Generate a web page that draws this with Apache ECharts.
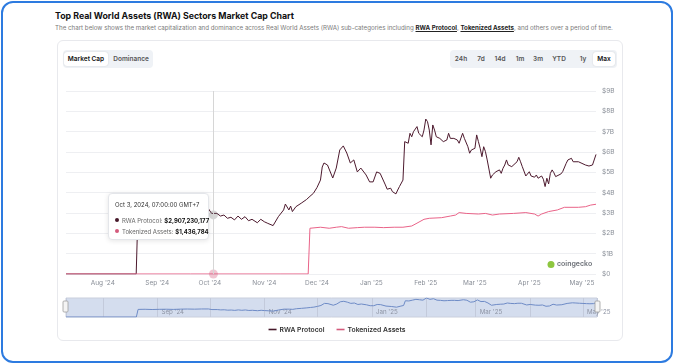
<!DOCTYPE html>
<html><head><meta charset="utf-8">
<script src="https://cdn.jsdelivr.net/npm/echarts@6/dist/echarts.min.js"></script>
<style>
html,body{margin:0;padding:0;background:#fff;width:674px;height:364px;overflow:hidden;font-family:Inter,"Noto Sans",sans-serif;}
#frame{position:absolute;left:1px;top:1px;width:668px;height:358px;border:2px solid #2d7be0;border-radius:12px;}
#title{position:absolute;left:55px;top:10px;font-size:8.8px;font-weight:700;color:#111;white-space:nowrap;}
#sub{position:absolute;left:55px;top:24px;font-size:6.2px;color:#7a7a7a;white-space:nowrap;}
#sub b{color:#222;text-decoration:underline;font-weight:700;}
#card{position:absolute;left:57px;top:40px;width:564px;height:299px;border:1px solid #e8e9ed;border-radius:6px;}
.grp{position:absolute;top:50px;height:18px;background:#eff2f6;border-radius:4px;}
.btn{position:absolute;top:0;height:18px;line-height:18px;font-size:6.5px;font-weight:600;color:#555;text-align:center;white-space:nowrap;}
.act{background:#fff;border-radius:3px;top:2px;height:14px;line-height:14px;color:#111;box-shadow:0 0 1.5px rgba(0,0,0,0.18);}
#chart{position:absolute;left:0;top:0;width:674px;height:364px;}
</style></head>
<body>
<div id="frame"></div>
<div id="title">Top Real World Assets (RWA) Sectors Market Cap Chart</div>
<div id="sub">The chart below shows the market capitalization and dominance across Real World Assets (RWA) sub-categories including <b>RWA Protocol</b>, <b>Tokenized Assets</b>, and others over a period of time.</div>
<div id="card"></div>
<div class="grp" style="left:63px;width:90px;">
  <div class="btn act" style="left:1px;width:44px;">Market Cap</div>
  <div class="btn" style="left:50px;width:36px;">Dominance</div>
</div>
<div class="grp" style="left:450px;width:167px;">
  <div class="btn" style="left:3px;width:16px;">24h</div>
  <div class="btn" style="left:23px;width:16px;">7d</div>
  <div class="btn" style="left:42px;width:16px;">14d</div>
  <div class="btn" style="left:62px;width:16px;">1m</div>
  <div class="btn" style="left:80px;width:16px;">3m</div>
  <div class="btn" style="left:101px;width:16px;">YTD</div>
  <div class="btn" style="left:125px;width:16px;">1y</div>
  <div class="btn act" style="left:143px;width:22px;">Max</div>
</div>
<div id="chart"></div>
<script>
const seriesNames = ['RWA Protocol', 'Tokenized Assets'];
const seriesColors = ['#46182a', '#d45a7c'];
const monthNames = ['Jan','Feb','Mar','Apr','May','Jun','Jul','Aug','Sep','Oct','Nov','Dec'];

// RWA Protocol market cap (billions USD)
const rwaDates = ['2024-07-11','2024-08-20','2024-08-21','2024-08-25','2024-08-29','2024-09-02','2024-09-06','2024-09-10','2024-09-14','2024-09-18','2024-09-22','2024-09-26','2024-09-30',
'2024-10-01','2024-10-02','2024-10-03','2024-10-05','2024-10-07','2024-10-09','2024-10-11','2024-10-13','2024-10-15','2024-10-17','2024-10-19','2024-10-21','2024-10-23','2024-10-25','2024-10-28','2024-10-30',
'2024-11-01','2024-11-03','2024-11-06','2024-11-09','2024-11-12','2024-11-13','2024-11-15','2024-11-16','2024-11-17','2024-11-19','2024-11-22','2024-11-25','2024-11-27','2024-11-29',
'2024-12-01','2024-12-03','2024-12-04','2024-12-05','2024-12-07','2024-12-08','2024-12-10','2024-12-12','2024-12-14','2024-12-16','2024-12-18','2024-12-20','2024-12-22','2024-12-24','2024-12-26','2024-12-29','2024-12-31',
'2025-01-02','2025-01-04','2025-01-06','2025-01-09','2025-01-10','2025-01-12','2025-01-13','2025-01-15','2025-01-16','2025-01-17','2025-01-18','2025-01-19','2025-01-20','2025-01-21','2025-01-22','2025-01-23','2025-01-24','2025-01-25','2025-01-26','2025-01-27','2025-01-28','2025-01-30','2025-01-31',
'2025-02-01','2025-02-02','2025-02-03','2025-02-04','2025-02-05','2025-02-06','2025-02-07','2025-02-08','2025-02-09','2025-02-10','2025-02-11','2025-02-13','2025-02-14','2025-02-15','2025-02-17','2025-02-19','2025-02-20','2025-02-22','2025-02-23','2025-02-24','2025-02-25','2025-02-26','2025-02-27','2025-02-28',
'2025-03-01','2025-03-02','2025-03-03','2025-03-04','2025-03-05','2025-03-06','2025-03-07','2025-03-08','2025-03-09','2025-03-10','2025-03-11','2025-03-13','2025-03-14','2025-03-15','2025-03-16','2025-03-17','2025-03-18','2025-03-19','2025-03-20','2025-03-21','2025-03-22','2025-03-23','2025-03-25','2025-03-26','2025-03-27','2025-03-28','2025-03-30','2025-03-31',
'2025-04-01','2025-04-02','2025-04-04','2025-04-05','2025-04-06','2025-04-08','2025-04-09','2025-04-10','2025-04-11','2025-04-12','2025-04-13','2025-04-14','2025-04-15','2025-04-16','2025-04-17','2025-04-19','2025-04-20','2025-04-22','2025-04-23','2025-04-25','2025-04-26','2025-04-27','2025-04-29',
'2025-05-01','2025-05-03','2025-05-05','2025-05-07','2025-05-08','2025-05-09'];
const rwaValues = [0,0,3.05,3.10,3.00,3.08,3.12,3.04,3.15,3.20,3.14,3.22,3.23,
3.10,2.98,2.907230177,2.98,2.85,2.90,2.74,2.79,2.66,2.85,2.69,2.82,2.62,2.69,2.52,2.69,
2.57,2.49,2.38,2.82,3.15,3.44,3.15,3.34,3.07,3.31,3.48,3.66,3.82,3.97,
4.25,4.62,5.26,5.46,5.36,5.41,4.72,5.21,6.10,6.30,5.95,5.46,5.61,5.02,5.21,4.87,4.53,
4.53,5.02,4.95,4.38,4.17,4.22,4.05,3.94,4.13,4.30,4.22,4.62,6.51,6.59,6.43,6.92,6.75,7.00,7.08,7.25,6.92,6.75,7.08,
7.62,7.49,7.08,6.35,7.33,7.08,6.75,6.84,6.67,6.75,6.51,6.59,6.92,6.67,6.67,6.59,6.43,6.92,6.67,6.72,6.26,5.94,6.10,6.10,
6.18,6.84,6.51,6.18,5.77,6.26,6.02,5.61,5.52,4.71,4.87,5.03,4.95,5.12,4.95,5.20,5.36,5.61,5.36,5.44,5.28,5.36,5.52,5.74,5.52,5.28,4.82,4.87,
5.03,4.82,4.76,4.87,4.71,4.82,4.66,4.30,4.71,4.43,4.95,5.12,4.98,4.79,4.87,4.92,5.03,5.44,5.61,5.69,5.52,5.61,5.52,
5.44,5.36,5.31,5.36,5.33,5.88];

// Tokenized Assets market cap (billions USD)
const tokDates = ['2024-07-11','2024-08-20','2024-09-20','2024-10-03','2024-11-10','2024-11-26','2024-11-27','2024-12-03','2024-12-08','2024-12-12','2024-12-15','2024-12-19','2024-12-24','2024-12-28',
'2025-01-03','2025-01-08','2025-01-14','2025-01-19','2025-01-24','2025-01-27','2025-01-31','2025-02-03','2025-02-10','2025-02-15','2025-02-18','2025-02-20','2025-02-24',
'2025-03-03','2025-03-07','2025-03-11','2025-03-15','2025-03-23','2025-03-30','2025-04-04','2025-04-06','2025-04-08','2025-04-12','2025-04-17','2025-04-21','2025-04-29','2025-05-03','2025-05-06','2025-05-09'];
const tokValues = [0.0011,0.0013,0.0014,0.001436784,0.0015,0.0016,2.25,2.30,2.25,2.30,2.33,2.25,2.28,2.30,
2.30,2.28,2.30,2.30,2.36,2.50,2.69,2.74,2.77,2.85,2.90,3.02,2.98,
2.95,2.98,2.90,2.95,2.98,3.02,2.95,2.85,2.95,3.07,3.15,3.28,3.28,3.31,3.39,3.43];

const tooltipDate = '2024-10-03';

function ts(s){ const p = s.split('-'); return Date.UTC(+p[0], +p[1]-1, +p[2]); }
function pairs(d, v){ return d.map((s, i) => [ts(s), v[i]]); }
function monthLabel(val){ const d = new Date(val); return d.getUTCDate() === 1 ? monthNames[d.getUTCMonth()] + " '" + String(d.getUTCFullYear()).slice(2) : ''; }
function navLabel(val){ const d = new Date(val); return (d.getUTCDate() === 1 && d.getUTCMonth() % 2 === 0) ? monthNames[d.getUTCMonth()] + " '" + String(d.getUTCFullYear()).slice(2) : ''; }
function pad(n){ return (n < 10 ? '0' : '') + n; }

const rwaData = pairs(rwaDates, rwaValues);
const tokData = pairs(tokDates, tokValues);
const DAY = 86400000;

const chart = echarts.init(document.getElementById('chart'), null, {renderer: 'canvas'});
const fontFamily = 'Inter, "Noto Sans", sans-serif';
const option = {
  animation: false,
  useUTC: true,
  backgroundColor: 'transparent',
  textStyle: { fontFamily: fontFamily },
  grid: [
    { left: 66, right: 78, top: 91, bottom: 90 },
    { left: 66, right: 77, top: 298, height: 19, show: true, backgroundColor: 'rgba(102,133,194,0.28)', borderColor: '#c9cfdc', borderWidth: 1 }
  ],
  legend: {
    data: seriesNames.map((n, i) => ({ name: n, itemStyle: { color: seriesColors[i] } })),
    top: 321, left: 'center', icon: 'rect', itemWidth: 8, itemHeight: 1.6, itemGap: 12,
    textStyle: { fontSize: 6.8, fontWeight: 600, color: '#333', fontFamily: fontFamily, padding: [0, 0, 0, -2] }
  },
  tooltip: {
    trigger: 'axis', triggerOn: 'none', alwaysShowContent: true, transitionDuration: 0,
    position: [108, 193], padding: 0, backgroundColor: '#fff', borderColor: '#e4e6ea', borderWidth: 1,
    extraCssText: 'box-shadow:0 1px 5px rgba(0,0,0,0.10);border-radius:4px;',
    axisPointer: { type: 'line', lineStyle: { color: '#d6d6d6', width: 1, type: 'solid' }, label: { show: false } },
    formatter: function(params){
      const p = params.filter(q => q.seriesIndex < 2);
      const t = p[0].value[0];
      const d = new Date(t + 7 * 3600000);
      const head = monthNames[d.getUTCMonth()] + ' ' + d.getUTCDate() + ', ' + d.getUTCFullYear() + ', ' + pad(d.getUTCHours()) + ':00:00 GMT+7';
      let h = '<div style="width:87px;height:35px;padding:5px 6px 5px 6px;font-family:Inter,sans-serif;font-size:6px;line-height:11px;color:#333;white-space:nowrap;">';
      h += '<div style="margin-bottom:5px">' + head + '</div>';
      p.forEach(q => {
        h += '<div><span style="display:inline-block;width:4px;height:4px;border-radius:2px;background:' + seriesColors[q.seriesIndex] + ';margin-right:3px;vertical-align:1px"></span>' +
          '<span style="color:#666">' + q.seriesName + ':</span> <b style="color:#111">$' + Math.round(q.value[1] * 1e9).toLocaleString('en-US') + '</b></div>';
      });
      return h + '</div>';
    }
  },
  xAxis: [
    { type: 'time', gridIndex: 0, min: 'dataMin', max: 'dataMax', minInterval: 28 * DAY, maxInterval: 31 * DAY,
      axisLine: { show: false }, axisTick: { show: false }, splitLine: { show: false },
      axisLabel: { formatter: monthLabel, fontSize: 6.5, color: '#8a8f98', margin: 6, showMinLabel: false, showMaxLabel: false, hideOverlap: false } },
    { type: 'time', gridIndex: 1, min: 'dataMin', max: 'dataMax', minInterval: 59 * DAY, maxInterval: 62 * DAY,
      axisLine: { show: false }, axisTick: { show: false },
      splitLine: { show: true, lineStyle: { color: '#c3cadb', width: 1 } },
      axisLabel: { inside: true, formatter: navLabel, fontSize: 6.2, color: '#8d93a3', align: 'left', margin: 2, padding: [0,0,0,4], showMinLabel: false, showMaxLabel: false } }
  ],
  yAxis: [
    { type: 'value', gridIndex: 0, position: 'right', min: 0, max: 9, interval: 1,
      axisLine: { show: false }, axisTick: { show: false },
      splitLine: { lineStyle: { color: '#eeeff2', width: 1 } },
      axisLabel: { formatter: v => '$' + v + (v === 0 ? '' : 'B'), fontSize: 6.5, color: '#8a8f98', margin: 6 } },
    { type: 'value', gridIndex: 1, min: 0, max: 'dataMax', show: false }
  ],
  series: [
    { name: seriesNames[0], type: 'line', xAxisIndex: 0, yAxisIndex: 0, data: rwaData, showSymbol: false, symbol: 'circle', symbolSize: 9,
      color: seriesColors[0], lineStyle: { width: 1, color: seriesColors[0] }, itemStyle: { color: seriesColors[0] },
      emphasis: { scale: false, lineStyle: { width: 1 }, itemStyle: { color: 'rgba(120,120,120,0.3)', borderWidth: 0 } }, z: 3 },
    { name: seriesNames[1], type: 'line', xAxisIndex: 0, yAxisIndex: 0, data: tokData, showSymbol: false, symbol: 'circle', symbolSize: 9,
      color: seriesColors[1], lineStyle: { width: 1, color: seriesColors[1] }, itemStyle: { color: seriesColors[1] },
      emphasis: { scale: false, lineStyle: { width: 1 }, itemStyle: { color: 'rgba(212,90,124,0.35)', borderWidth: 0 } }, z: 4 },
    { name: 'nav', type: 'line', xAxisIndex: 1, yAxisIndex: 1, data: rwaData, showSymbol: false, silent: true,
      lineStyle: { width: 1, color: '#6e8bc6' }, color: '#6e8bc6', tooltip: { show: false } }
  ],
  graphic: [
    { type: 'rect', shape: { x: 63, y: 301, width: 5, height: 11, r: 1 }, style: { fill: '#f4f4f4', stroke: '#a0a0a0', lineWidth: 0.8 }, z: 10 },
    { type: 'rect', shape: { x: 595, y: 301, width: 5, height: 11, r: 1 }, style: { fill: '#f4f4f4', stroke: '#a0a0a0', lineWidth: 0.8 }, z: 10 },
    { type: 'circle', shape: { cx: 551, cy: 264.5, r: 3.5 }, style: { fill: '#8dc63f' }, z: 10 },
    { type: 'text', left: 557, top: 260.5, style: { text: 'coingecko', fontSize: 7, fontWeight: 600, fill: '#6b6f76', fontFamily: fontFamily }, z: 10 }
  ]
};
chart.setOption(option);
const idx = rwaDates.indexOf(tooltipDate);
chart.dispatchAction({ type: 'showTip', seriesIndex: 0, dataIndex: idx });
</script>
</body></html>
